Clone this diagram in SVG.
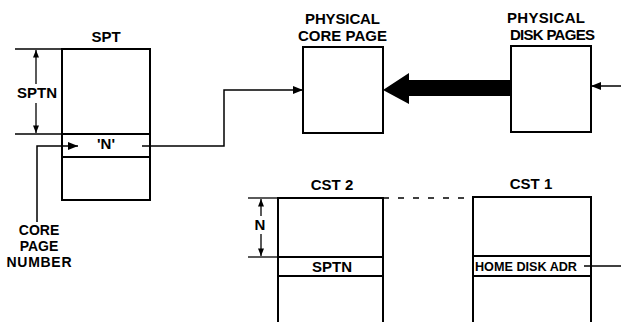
<svg xmlns="http://www.w3.org/2000/svg" width="621" height="322" viewBox="0 0 621 322">
<style>
  .box{fill:none;stroke:#000;stroke-width:2}
  .ln{fill:none;stroke:#000;stroke-width:1.5}
  .dim{fill:none;stroke:#000;stroke-width:1.3}
  .t{font-family:"Liberation Sans",Arial,sans-serif;font-weight:bold;font-size:15px;fill:#000;text-anchor:middle}
  .s{font-size:13px}
  .m{font-size:14px}
</style>
<defs>
  <marker id="ah" viewBox="0 0 10 8" refX="10" refY="4" markerWidth="10" markerHeight="8" markerUnits="userSpaceOnUse" orient="auto">
    <path d="M0,0 L10,4 L0,8 Z" fill="#000"/>
  </marker>
  <marker id="ahs" viewBox="0 0 10 8" refX="10" refY="4" markerWidth="8" markerHeight="6" markerUnits="userSpaceOnUse" orient="auto-start-reverse">
    <path d="M0,0 L10,4 L0,8 Z" fill="#000"/>
  </marker>
</defs>
<rect width="621" height="322" fill="#fff"/>

<g id="spt">
  <rect class="box" x="62" y="49" width="88" height="151"/>
  <line class="box" x1="62" y1="134" x2="150" y2="134"/>
  <line class="box" x1="62" y1="157" x2="150" y2="157"/>
  <text class="t" x="106" y="42">SPT</text>
  <text class="t" x="106" y="149">'N'</text>
</g>

<g id="sptn-dim">
  <line class="dim" x1="15" y1="49" x2="62" y2="49"/>
  <line class="dim" x1="15" y1="134" x2="62" y2="134"/>
  <line class="dim" x1="36" y1="84" x2="36" y2="50" marker-end="url(#ahs)"/>
  <line class="dim" x1="36" y1="103" x2="36" y2="133" marker-end="url(#ahs)"/>
  <text class="t" x="37" y="98">SPTN</text>
</g>

<g id="core-page-number">
  <text class="t m" x="39" y="235">CORE</text>
  <text class="t m" x="39" y="251">PAGE</text>
  <text class="t m" x="39" y="267" textLength="65" lengthAdjust="spacing">NUMBER</text>
</g>

<g id="physical-core-page">
  <rect class="box" x="303" y="47" width="80" height="86"/>
  <text class="t" x="342.5" y="24" textLength="75" lengthAdjust="spacing">PHYSICAL</text>
  <text class="t" x="342.5" y="41" textLength="89" lengthAdjust="spacing">CORE PAGE</text>
</g>

<g id="physical-disk-pages">
  <rect class="box" x="511" y="46" width="80" height="86"/>
  <text class="t" x="546" y="23" textLength="78" lengthAdjust="spacing">PHYSICAL</text>
  <text class="t" x="552.5" y="40" textLength="85" lengthAdjust="spacing">DISK PAGES</text>
</g>

<g id="cst2">
  <path class="box" d="M278,322 V198 H383 V322"/>
  <line class="box" x1="278" y1="257" x2="383" y2="257"/>
  <line class="box" x1="278" y1="276" x2="383" y2="276"/>
  <text class="t" x="332" y="190">CST 2</text>
  <text class="t" x="332" y="272">SPTN</text>
</g>

<g id="n-dim">
  <line class="dim" x1="248" y1="198" x2="278" y2="198"/>
  <line class="dim" x1="248" y1="257" x2="278" y2="257"/>
  <line class="dim" x1="261" y1="216" x2="261" y2="199" marker-end="url(#ahs)"/>
  <line class="dim" x1="261" y1="234" x2="261" y2="256" marker-end="url(#ahs)"/>
  <text class="t" x="260" y="230">N</text>
</g>

<g id="cst1">
  <path class="box" d="M473,322 V197 H591 V322"/>
  <line class="box" x1="473" y1="256" x2="591" y2="256"/>
  <line class="box" x1="473" y1="276" x2="591" y2="276"/>
  <text class="t" x="531" y="189">CST 1</text>
  <text class="t s" x="475" y="271" style="text-anchor:start" textLength="102" lengthAdjust="spacingAndGlyphs">HOME DISK ADR</text>
</g>

<g id="connectors">
  <polyline class="ln" points="37,222 37,146 78,146" marker-end="url(#ah)"/>
  <polyline class="ln" points="142,146 224,146 224,90 303,90" marker-end="url(#ah)"/>
  <line class="ln" x1="621" y1="86" x2="591" y2="86" marker-end="url(#ah)"/>
  <line class="ln" x1="584" y1="266" x2="621" y2="266"/>
  <line class="ln" x1="383" y1="198" x2="473" y2="198" stroke-dasharray="6 9"/>
  <path d="M383,90 L409,73 L409,80 L510,80 L510,96 L409,96 L409,104 Z" fill="#000"/>
</g>
</svg>
